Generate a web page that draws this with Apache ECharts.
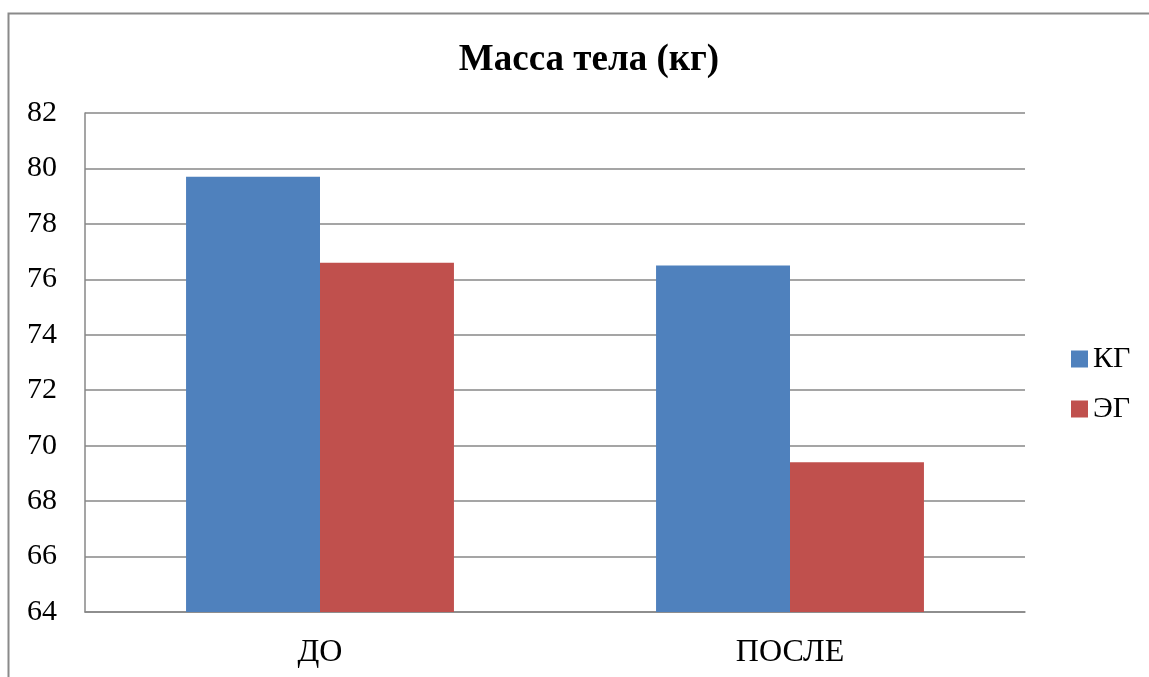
<!DOCTYPE html>
<html>
<head>
<meta charset="utf-8">
<script src="https://cdn.jsdelivr.net/npm/echarts@6/dist/echarts.min.js"></script>
<style>
  html, body { margin: 0; padding: 0; background: #fff; }
  #chart { width: 1149px; height: 677px; }
</style>
</head>
<body>
<div id="chart"></div>
<script>
// Body mass before and after, control vs experimental group
const categories = ['ДО', 'ПОСЛЕ'];
const seriesNames = ['КГ', 'ЭГ'];
const kgValues = [79.7, 76.5];
const egValues = [76.6, 69.4];
const yMin = 64, yMax = 82, yStep = 2;

const font = '"Liberation Serif", "Times New Roman", serif';
const gridColor = '#878787';

const chart = echarts.init(document.getElementById('chart'), null, { renderer: 'canvas' });
chart.setOption({
  backgroundColor: '#fff',
  animation: false,
  title: {
    text: 'Масса тела (кг)',
    left: 584, top: 37, textAlign: 'center',
    textStyle: { fontFamily: font, fontWeight: 'bold', fontSize: 37, color: '#000' }
  },
  graphic: [{
    type: 'rect', silent: true,
    shape: { x: 8.5, y: 13.5, width: 1300, height: 800 },
    style: { fill: 'none', stroke: '#8a8a8a', lineWidth: 2 }
  }],
  legend: {
    orient: 'vertical', left: 1066, top: 339,
    itemWidth: 17, itemHeight: 17, itemGap: 20,
    icon: 'rect',
    textStyle: { fontFamily: font, fontSize: 30, color: '#000', padding: [0, 0, 0, 0] },
    data: seriesNames
  },
  grid: { left: 85, right: 124, top: 113, bottom: 65, containLabel: false },
  xAxis: {
    type: 'category', data: categories,
    axisLine: { lineStyle: { color: gridColor, width: 1.5 } },
    axisTick: { show: false },
    axisLabel: { fontFamily: font, fontSize: 32, color: '#000', margin: 25 }
  },
  yAxis: {
    type: 'value', min: yMin, max: yMax, interval: yStep,
    axisLine: { show: true, lineStyle: { color: gridColor, width: 1.5 } },
    axisTick: { show: false },
    splitLine: { lineStyle: { color: gridColor, width: 1.5 } },
    axisLabel: { fontFamily: font, fontSize: 30, color: '#000', margin: 28 }
  },
  series: [
    { name: seriesNames[0], type: 'bar', data: kgValues, barGap: '0%', barCategoryGap: '43%',
      itemStyle: { color: '#4F81BD' } },
    { name: seriesNames[1], type: 'bar', data: egValues, barGap: '0%', barCategoryGap: '43%',
      itemStyle: { color: '#C0504D' } }
  ]
});
</script>
</body>
</html>
